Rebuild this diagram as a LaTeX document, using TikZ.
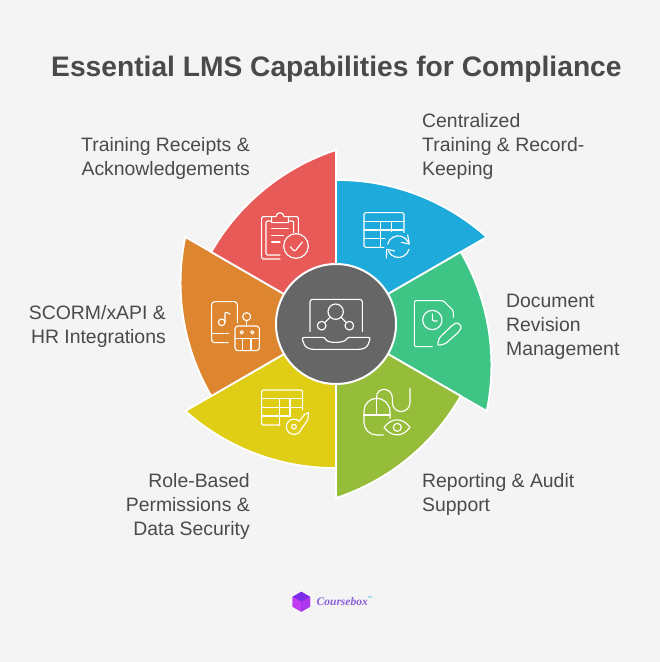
\documentclass[tikz,border=0pt]{standalone}
\usepackage{fontspec}
\setmainfont{Liberation Sans}
\newfontfamily\logofont{Liberation Serif}
\definecolor{bgc}{HTML}{F4F4F4}
\definecolor{txt}{HTML}{4A4A4A}
\definecolor{cred}{HTML}{E85A58}
\definecolor{cblue}{HTML}{1EAADB}
\definecolor{cgreen}{HTML}{3EC586}
\definecolor{colive}{HTML}{96BD3A}
\definecolor{cyellow}{HTML}{E0CD15}
\definecolor{corange}{HTML}{DE8530}
\definecolor{chub}{HTML}{666666}
\definecolor{logoa}{HTML}{C13BEF}
\definecolor{logob}{HTML}{7A2CE8}
\definecolor{logot}{HTML}{8A5CD8}
\tikzset{
  lbl/.style={text=txt,inner sep=0pt,font=\fontsize{19.4}{24}\selectfont},
  lblr/.style={lbl,align=right,anchor=base east},
  lbll/.style={lbl,align=left,anchor=base west},
  ico/.style={draw=white,line width=1.15pt,line cap=round,line join=round,rounded corners=1.4pt},
  icoa/.style={draw=white,line width=1.15pt,line cap=round,line join=round},
  crop/.style={x=0.33333pt,y=-0.33333pt},
}
\begin{document}
\begin{tikzpicture}[x=1pt,y=-1pt]
\useasboundingbox (0,0) rectangle (660,662);
\fill[bgc] (0,0) rectangle (660,662);
\node[text=txt,inner sep=0pt,anchor=base west,font=\bfseries\fontsize{28.2}{32}\selectfont] (title) at (51,76.5) {Essential LMS Capabilities for Compliance};

% sectors
\foreach \s/\c in {-90/cblue,-30/cgreen,30/colive,90/cyellow,150/corange,210/cred}{
  \begin{scope}[shift={(336,324)},rotate=-\s]
  \path[fill=\c,draw=white,line width=1.8pt,line join=miter]
    (0,0) -- (144,0) .. controls (144.4,55.5) and (124,109.3) .. (87,150.7) -- cycle;
  \end{scope}
}
\node[circle,fill=chub,draw=white,line width=2pt,minimum size=120pt,inner sep=0pt] (hub) at (336,324) {};

% labels
\node[lblr] (l1) at (250,175) {Training Receipts \&\\Acknowledgements};
\node[lbll] (l2) at (422,175) {Centralized\\Training \& Record-\\Keeping};
\node[lbll] (l3) at (506,355) {Document\\Revision\\Management};
\node[lbll] (l4) at (422,511) {Reporting \& Audit\\Support};
\node[lblr] (l5) at (250,535) {Role-Based\\Permissions \&\\Data Security};
\node[lblr] (l6) at (166,343) {SCORM/xAPI \&\\HR Integrations};

% red icon
\begin{scope}[shift={(170,140)},crop]
\draw[ico] (330,357)--(275,357)--(275,230)--(305,230);
\draw[ico] (355,230)--(385,230)--(385,280);
\draw[ico] (330,345)--(288,345)--(288,243)--(305,243);
\draw[ico] (355,243)--(371,243)--(371,278);
\draw[icoa] (305,248)--(305,230)--(318,230) arc (180:360:12) --(355,230)--(355,248)--cycle;
\draw[ico] (305,266)--(355,266) (305,286)--(340,286) (305,306)--(330,306);
\draw[ico] (378,318) circle (37);
\draw[ico] (361,320)--(374,335)--(397,306);
\end{scope}

% blue icon
\begin{scope}[shift={(330,170)},crop]
\draw[ico] (222,188)--(222,128)--(102,128)--(102,232)--(162,232);
\draw[ico] (102,155)--(222,155) (102,180)--(218,180) (102,205)--(165,205);
\draw[ico] (152,155)--(152,232) (185,155)--(185,185);
\draw[icoa] (173,222) arc (195:335:33);
\draw[icoa] (233,195)--(238,222)--(214,217);
\draw[icoa] (237,238) arc (15:155:33);
\draw[icoa] (169,264)--(170,238)--(194,243);
\end{scope}

% green icon
\begin{scope}[shift={(400,290)},crop]
\draw[ico] (97,170)--(43,170)--(43,32)--(130,32)--(160,62)--(160,82);
\draw[ico] (97,90) circle (29);
\draw[ico] (97,72)--(97,93)--(112,93);
\draw[ico,rounded corners=2.2pt] (112,167)--(118,143)--(160,103)--(172,97)--(185,110)--(180,122)--(137,161)--cycle;
\end{scope}

% olive icon
\begin{scope}[shift={(330,330)},crop]
\draw[icoa] (160,315)--(140,315) arc (90:180:38) --(102,243) arc (180:270:38) arc (270:360:40)--(180,265);
\draw[ico] (102,255)--(180,255) (140,205)--(140,255);
\draw[icoa] (140,205)--(140,200) arc (180:270:22) arc (270:360:25) --(187,218) arc (180:0:26.5)--(240,175);
\draw[icoa] (162,292) .. controls (185,262) and (218,262) .. (240,292) .. controls (218,322) and (185,322) .. (162,292) -- cycle;
\draw[ico] (202,292) circle (12);
\end{scope}

% yellow icon
\begin{scope}[shift={(170,310)},crop]
\draw[ico] (330,345)--(275,345)--(275,240)--(398,240)--(398,300);
\draw[ico] (275,265)--(398,265) (275,292)--(398,292) (275,318)--(360,318);
\draw[ico] (328,265)--(328,345) (360,265)--(360,320);
\draw[ico] (372,350) circle (7);
\draw[icoa] (394,357) arc (17:313:23) --(405,312)--(416,308)--(413,330)--cycle;
\end{scope}

% orange icon
\begin{scope}[shift={(200,290)},crop]
\draw[ico,rounded corners=3pt] (112,98)--(112,35)--(35,35)--(35,158)--(85,158);
\draw[ico] (35,130)--(85,130);
\draw[ico] (65,97) circle (10);
\draw[ico] (75,97)--(75,65)--(90,72);
\draw[ico,rounded corners=3pt] (105,108) rectangle (178,182);
\draw[ico] (105,145)--(178,145) (128,145)--(128,182) (153,145)--(153,182);
\draw[ico] (125,127) circle (5) (157,127) circle (5);
\draw[ico] (140,108)--(140,92);
\draw[ico] (140,80) circle (12);
\end{scope}

% hub icon
\begin{scope}[shift={(270,260)},crop]
\draw[ico,rounded corners=2.5pt] (120,215)--(120,118)--(277,118)--(277,215);
\draw[ico] (197,155) circle (23) (155,197) circle (13) (238,197) circle (13);
\draw[ico] (180,172)--(165,187) (214,172)--(228,187);
\draw[ico,rounded corners=2.5pt] (95,232)--(165,232) .. controls (172,250) and (222,250) .. (232,232) --(302,232)--(292,260)--(275,268)--(122,268)--(105,260)--cycle;
\end{scope}

% logo
\begin{scope}[shift={(280,580)},crop]
\fill[logob] (38,50)--(64,35)--(90,50)--(90,80)--(64,95)--(38,80)--cycle;
\fill[logoa] (38,50)--(64,65)--(64,95)--(38,80)--cycle;
\fill[logoa!70!logob] (64,65)--(90,50)--(90,80)--(64,95)--cycle;
\end{scope}
\node[inner sep=0pt,anchor=base west,text=logot,font=\logofont\bfseries\itshape\fontsize{11.5}{12}\selectfont] (logo) at (316.5,605) {Coursebox};
\node[inner sep=0pt,anchor=base west,text=cblue,font=\fontsize{3}{3}\selectfont] (tm) at (367.5,598.5) {TM};
\end{tikzpicture}
\end{document}
